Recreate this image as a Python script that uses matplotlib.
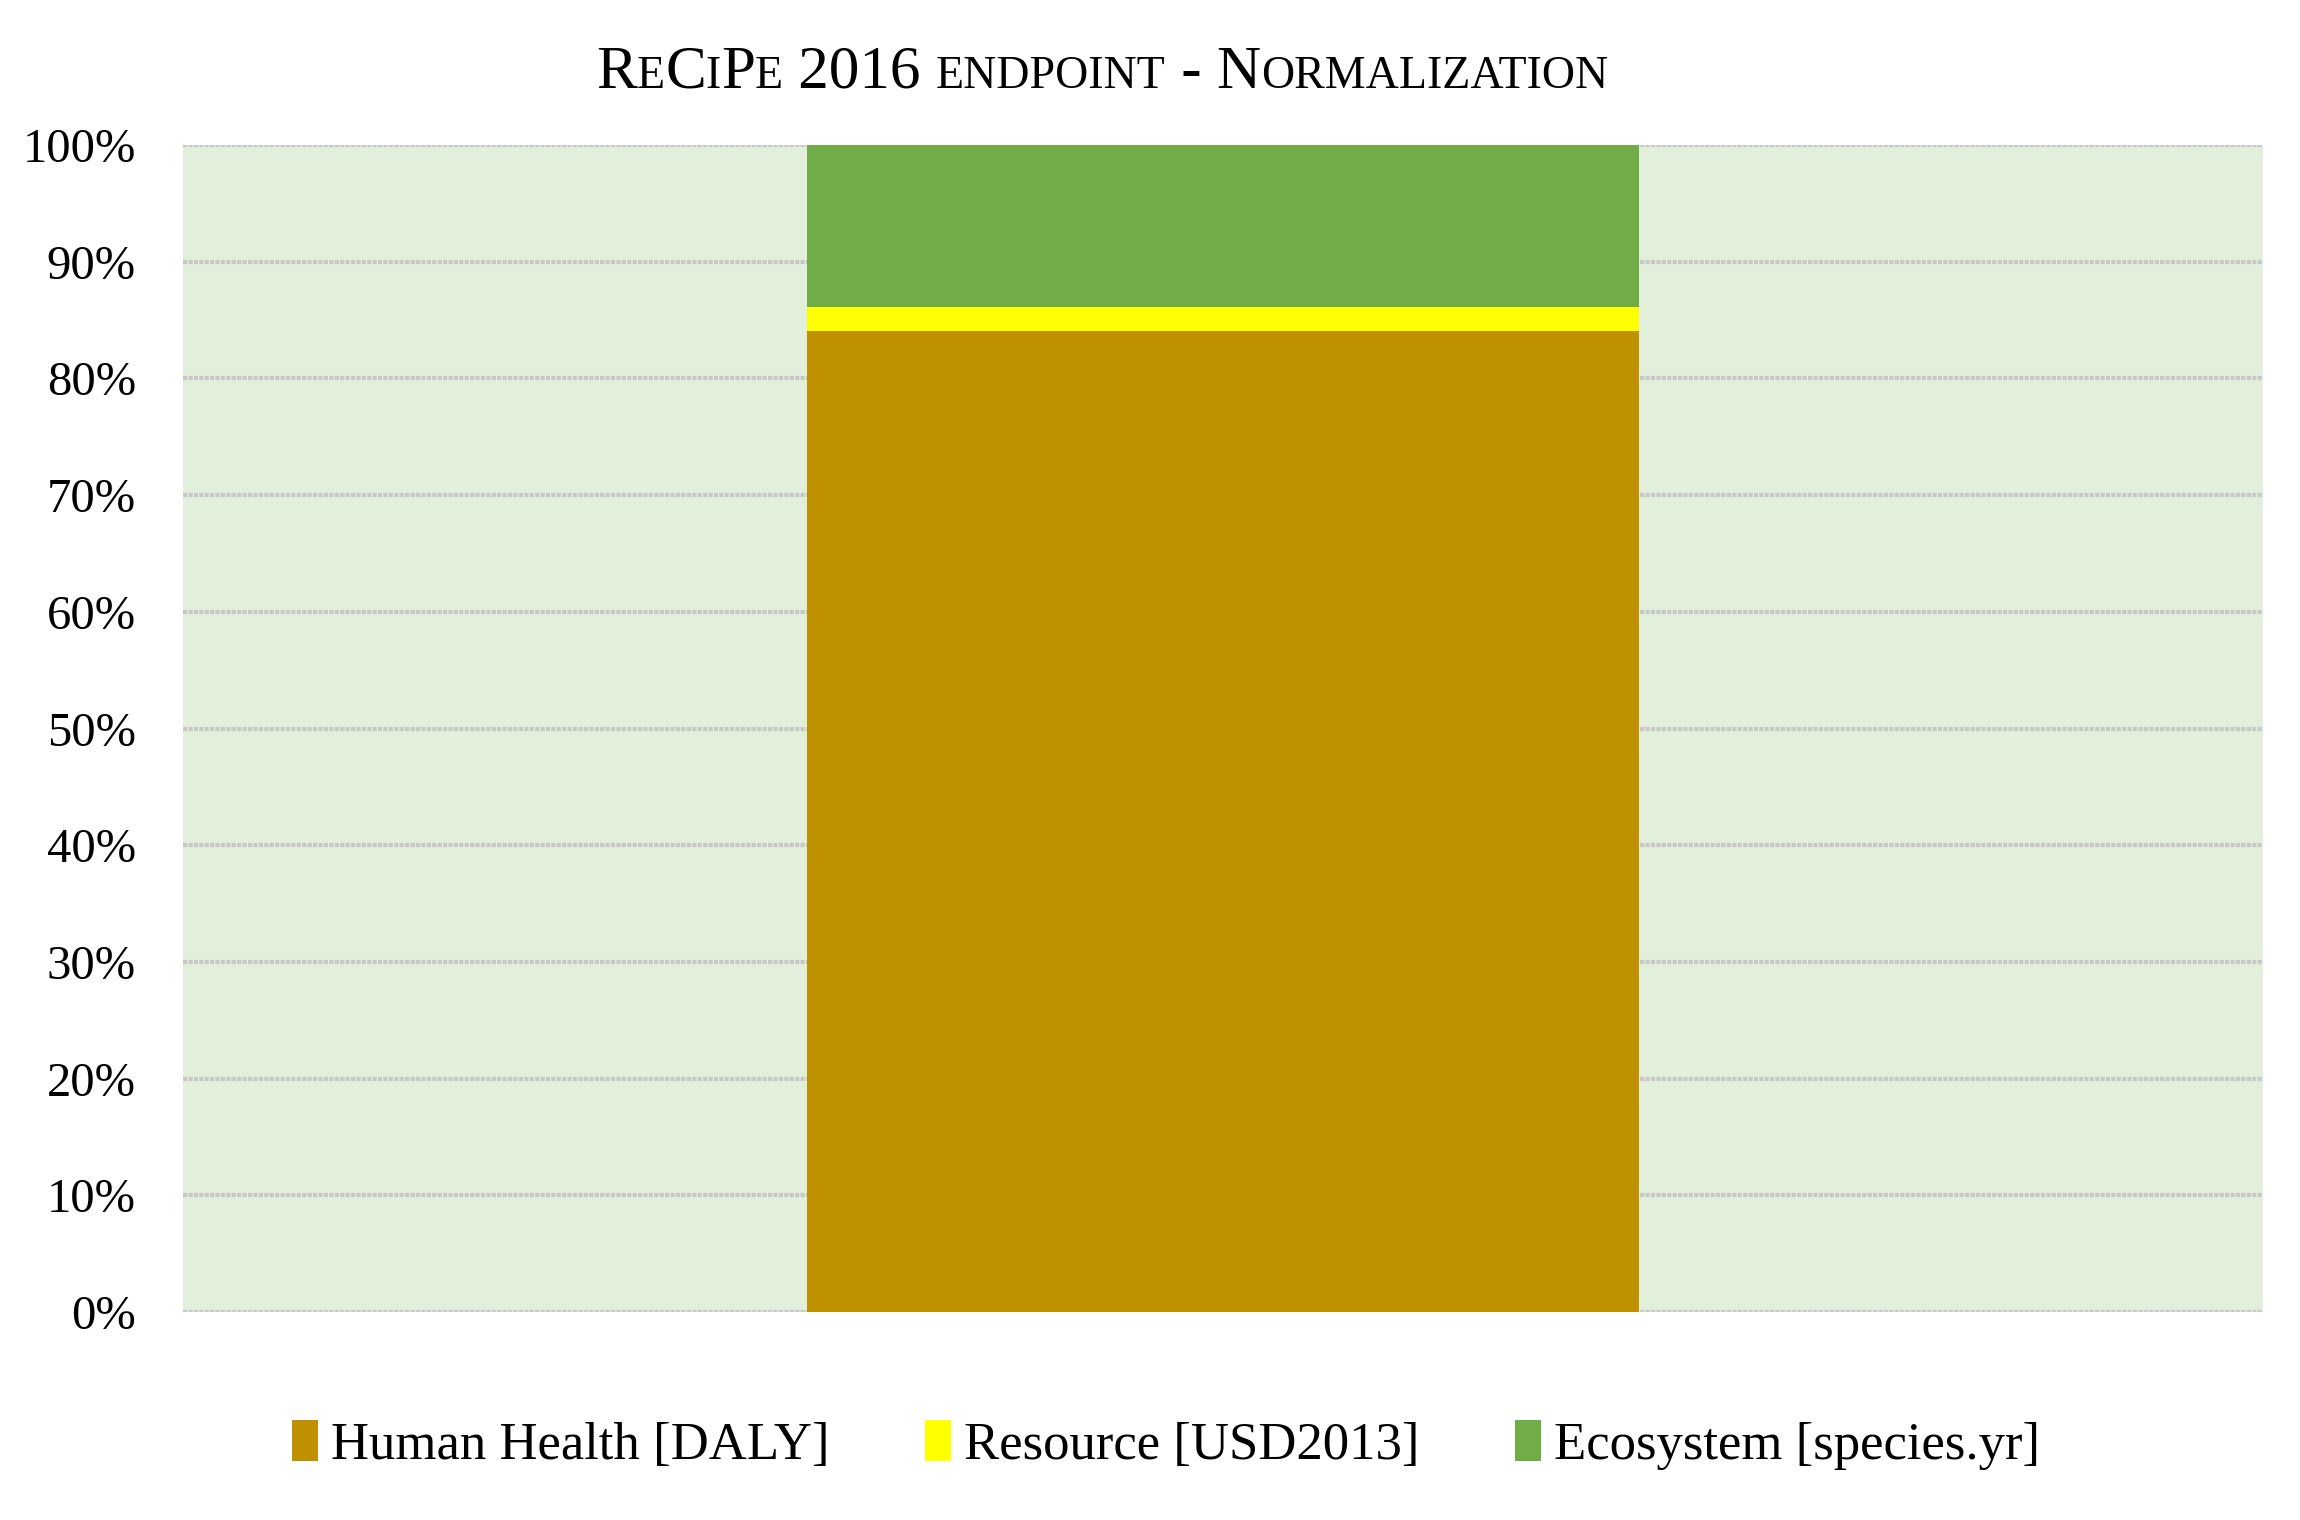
import matplotlib
matplotlib.use("Agg")
import matplotlib.pyplot as plt
from matplotlib.offsetbox import TextArea, HPacker, AnchoredOffsetbox
from matplotlib.patches import Patch

# data (percent of total)
categories = ["Normalization"]
series_names = ["Human Health [DALY]", "Resource [USD2013]", "Ecosystem [species.yr]"]
human_health = [84.1]
resource = [2.0]
ecosystem = [13.9]
series_colors = ["#BF9000", "#FFFF00", "#70AD47"]
y_ticks = [0, 10, 20, 30, 40, 50, 60, 70, 80, 90, 100]

plt.rcParams["font.family"] = ["Liberation Serif", "DejaVu Serif"]

fig = plt.figure(figsize=(23, 15.2), dpi=100)
ax = fig.add_axes([183 / 2300, 1 - 1312 / 1520, 2080 / 2300, 1167 / 1520])
ax.set_facecolor("#E2EFDA")

x = list(range(len(categories)))
bottom = [0] * len(categories)
for vals, name, col in zip([human_health, resource, ecosystem], series_names, series_colors):
	ax.bar(x, vals, width=0.4, bottom=bottom, color=col, label=name, zorder=3)
	bottom = [b + v for b, v in zip(bottom, vals)]

ax.set_xlim(-0.5, 0.5)
ax.set_ylim(0, 100)
ax.set_yticks(y_ticks)
ax.set_yticklabels(["%d%%" % t for t in y_ticks])
ax.set_xticks([])
ax.tick_params(axis="y", length=0, pad=34, labelsize=35)
ax.set_axisbelow(True)
ax.grid(axis="y", color="#C8C8C8", linewidth=3, linestyle=(0, (1, 0.3)))
for s in ax.spines.values():
	s.set_visible(False)

# title in small caps, built from pieces
big = 44
small = 33
pieces = [("R", big), ("E", small), ("C", big), ("I", small), ("P", big), ("E", small),
	(" 2016 ", big), ("ENDPOINT", small), (" - ", big), ("N", big), ("ORMALIZATION", small)]
areas = [TextArea(t, textprops=dict(fontsize=fs, color="black")) for t, fs in pieces]
title_box = HPacker(children=areas, align="baseline", pad=0, sep=0)
anchored = AnchoredOffsetbox(loc="center", child=title_box, frameon=False,
	bbox_to_anchor=(1102 / 2300, 1 - 73 / 1520), bbox_transform=fig.transFigure, pad=0, borderpad=0)
fig.add_artist(anchored)

handles = [Patch(facecolor=c, edgecolor="none") for c in series_colors]
fig.legend(handles, series_names, loc="center", bbox_to_anchor=(1166 / 2300, 1 - 1445 / 1520),
	ncol=3, frameon=False, fontsize=38, handlelength=0.5, handleheight=0.8,
	handletextpad=0.25, columnspacing=1.8)

plt.savefig("out.png", dpi=100)
